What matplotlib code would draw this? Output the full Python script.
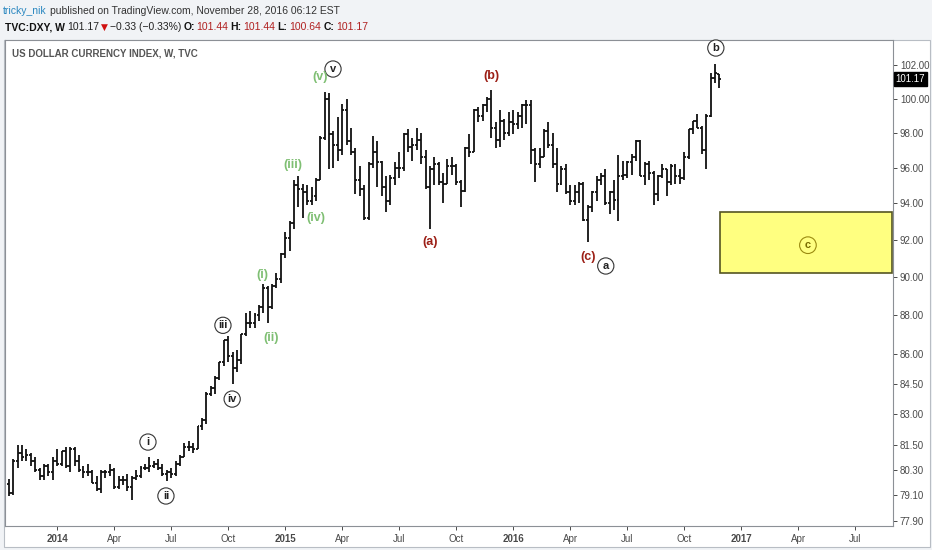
import numpy as np
import matplotlib.pyplot as plt
import matplotlib.transforms as mtransforms
from matplotlib.patches import Rectangle
from matplotlib.ticker import NullLocator

plt.rcParams['font.family'] = ['Liberation Sans', 'DejaVu Sans']

# weekly DXY bars, Oct 21 2013 .. Nov 28 2016
opens = [79.65, 79.2, 80.7, 81.1, 80.9, 81.0, 80.7, 80.3, 80.0, 80.5,
         80.2, 80.7, 80.6, 81.2, 80.5, 81.3, 80.7, 80.3, 80.2, 80.2,
         79.7, 79.4, 80.2, 80.2, 80.3, 79.5, 79.8, 79.8, 79.5, 79.9,
         80.0, 80.4, 80.4, 80.5, 80.6, 80.4, 80.1, 80.2, 80.1, 80.6,
         80.9, 81.4, 81.4, 81.3, 82.4, 82.7, 84.0, 84.3, 84.8, 85.6,
         86.7, 85.9, 85.3, 85.7, 87.0, 87.6, 87.6, 88.0, 88.4, 89.4,
         88.4, 89.5, 89.9, 91.2, 92.1, 92.9, 95.0, 94.8, 94.6, 94.1,
         94.4, 95.3, 97.7, 100.0, 97.9, 97.3, 97.0, 99.3, 97.5, 96.9,
         95.3, 94.8, 93.2, 96.2, 96.9, 96.3, 94.9, 94.1, 95.4, 96.0,
         96.0, 97.9, 97.2, 97.3, 97.6, 96.6, 94.9, 95.9, 96.2, 95.2,
         95.1, 96.1, 96.1, 95.2, 94.7, 97.1, 96.9, 99.3, 99.0, 99.6,
         100.0, 98.3, 97.6, 98.7, 98.0, 98.6, 98.5, 99.0, 99.6, 99.6,
         97.0, 96.2, 96.6, 98.1, 97.3, 96.2, 95.1, 95.9, 94.6, 94.1,
         94.6, 95.1, 93.1, 93.8, 94.6, 95.3, 95.5, 94.0, 94.6, 94.2,
         95.5, 95.6, 96.3, 96.6, 97.5, 95.5, 96.2, 95.7, 94.5, 95.5,
         95.9, 95.2, 96.1, 95.5, 95.4, 96.6, 98.2, 98.7, 98.3, 97.0,
         99.0, 101.2, 101.44]
highs = [79.85, 80.8, 81.5, 81.5, 81.3, 81.1, 80.9, 80.4, 80.6, 80.6,
         80.9, 81.3, 81.2, 81.4, 81.4, 81.4, 81.0, 80.5, 80.6, 80.3,
         80.0, 80.3, 80.3, 80.6, 80.4, 80.0, 80.0, 80.1, 80.0, 80.3,
         80.5, 80.6, 80.9, 80.7, 80.8, 80.6, 80.3, 80.4, 80.7, 81.0,
         81.6, 81.7, 81.6, 82.4, 82.8, 84.1, 84.4, 84.9, 85.6, 86.7,
         86.9, 86.1, 86.2, 87.0, 88.1, 88.2, 88.1, 88.5, 89.6, 89.5,
         89.6, 90.2, 91.3, 92.4, 93.0, 95.3, 95.5, 95.1, 95.0, 94.9,
         95.4, 97.8, 100.4, 100.3, 98.1, 98.9, 99.7, 100.0, 98.3, 97.1,
         96.1, 95.0, 96.3, 97.8, 97.5, 96.4, 95.5, 95.6, 96.3, 96.9,
         98.0, 98.2, 97.7, 98.3, 98.0, 97.0, 96.1, 96.6, 96.3, 95.7,
         96.5, 96.6, 96.2, 95.3, 97.2, 97.9, 99.4, 99.5, 99.7, 100.1,
         100.5, 98.6, 99.3, 98.8, 99.2, 99.3, 99.2, 99.7, 99.9, 99.9,
         97.1, 97.1, 98.2, 98.6, 98.0, 97.1, 96.1, 96.2, 95.0, 95.0,
         95.2, 95.2, 93.9, 94.7, 95.5, 95.7, 95.9, 94.7, 95.3, 96.7,
         96.4, 96.4, 96.8, 97.6, 97.6, 96.3, 96.4, 95.8, 95.6, 96.2,
         95.9, 96.2, 96.2, 95.9, 96.9, 98.2, 98.7, 99.1, 98.4, 99.1,
         101.5, 102.05, 101.44]
lows = [79.05, 79.1, 80.4, 80.7, 80.7, 80.5, 80.2, 79.8, 79.8, 80.0,
        79.8, 80.5, 80.5, 80.4, 80.2, 80.5, 80.2, 79.9, 80.0, 79.7,
        79.3, 79.2, 79.9, 80.0, 79.4, 79.4, 79.6, 79.3, 78.9, 79.8,
        79.9, 80.3, 80.2, 80.4, 80.3, 80.0, 79.75, 79.9, 80.0, 80.5,
        80.9, 81.2, 81.1, 81.3, 82.2, 82.5, 83.9, 84.0, 84.7, 85.4,
        85.6, 84.5, 85.1, 85.5, 86.9, 87.3, 87.3, 87.7, 88.1, 87.6,
        88.3, 89.4, 89.7, 91.0, 91.4, 92.6, 93.8, 93.2, 93.9, 93.9,
        94.1, 95.3, 97.6, 95.9, 96.0, 96.4, 96.7, 97.3, 96.7, 94.5,
        94.4, 93.1, 93.1, 96.0, 94.9, 94.4, 93.5, 93.9, 95.0, 95.4,
        95.8, 96.9, 96.4, 97.0, 96.2, 94.8, 92.6, 95.0, 95.0, 94.0,
        95.1, 95.6, 95.0, 93.8, 94.6, 96.6, 96.9, 98.6, 98.7, 99.2,
        97.7, 97.1, 97.2, 97.6, 97.8, 97.9, 98.2, 98.3, 98.5, 96.2,
        95.2, 96.0, 96.6, 97.1, 96.0, 94.6, 95.0, 94.5, 93.9, 93.9,
        94.0, 93.0, 91.9, 93.5, 94.1, 95.0, 93.9, 93.4, 93.6, 93.0,
        95.3, 95.4, 95.6, 96.4, 95.5, 95.0, 95.3, 93.9, 94.1, 95.4,
        94.4, 95.0, 95.1, 95.1, 95.3, 96.5, 97.9, 98.3, 96.8, 95.9,
        98.9, 100.9, 100.64]
closes = [79.2, 80.7, 81.1, 80.9, 81.0, 80.7, 80.3, 80.0, 80.5, 80.2,
          80.7, 80.6, 81.2, 80.5, 81.3, 80.7, 80.3, 80.2, 80.2, 79.7,
          79.4, 80.2, 80.2, 80.3, 79.5, 79.8, 79.8, 79.5, 79.9, 80.0,
          80.4, 80.4, 80.5, 80.6, 80.4, 80.1, 80.2, 80.1, 80.6, 80.9,
          81.4, 81.4, 81.3, 82.4, 82.7, 84.0, 84.3, 84.8, 85.6, 86.7,
          85.9, 85.3, 85.7, 87.0, 87.6, 87.6, 88.0, 88.4, 89.4, 88.4,
          89.5, 89.9, 91.2, 92.1, 92.9, 95.0, 94.8, 94.6, 94.1, 94.4,
          95.3, 97.7, 100.0, 97.9, 97.3, 97.0, 99.3, 97.5, 96.9, 95.3,
          94.8, 93.2, 96.2, 96.9, 96.3, 94.9, 94.1, 95.4, 96.0, 96.0,
          97.9, 97.2, 97.3, 97.6, 96.6, 94.9, 95.9, 96.2, 95.2, 95.1,
          96.1, 96.1, 95.2, 94.7, 97.1, 96.9, 99.3, 99.0, 99.6, 100.0,
          98.3, 97.6, 98.7, 98.0, 98.6, 98.5, 99.0, 99.6, 99.6, 97.0,
          96.2, 96.6, 98.1, 97.3, 96.2, 95.1, 95.9, 94.6, 94.1, 94.6,
          95.1, 93.1, 93.8, 94.6, 95.3, 95.5, 94.0, 94.6, 94.2, 95.5,
          95.6, 96.3, 96.6, 97.5, 95.5, 96.2, 95.7, 94.5, 95.5, 95.9,
          95.2, 96.1, 95.5, 95.4, 96.6, 98.2, 98.7, 98.3, 97.0, 99.0,
          101.2, 101.5, 101.17]

price_ticks = [77.90, 79.10, 80.30, 81.50, 83.00, 84.50, 86.00, 88.00,
               90.00, 92.00, 94.00, 96.00, 98.00, 100.00, 102.00]
time_tick_pos = [11, 24, 37, 50, 63, 76, 89, 102, 115, 128, 141, 154, 167, 180, 193]
time_tick_labels = ['2014', 'Apr', 'Jul', 'Oct', '2015', 'Apr', 'Jul', 'Oct',
                    '2016', 'Apr', 'Jul', 'Oct', '2017', 'Apr', 'Jul']

# wave labels: (text, bar position, price)
circled_labels = [('i', 31.7, 81.63), ('ii', 35.8, 79.07), ('iii', 48.8, 87.46),
                  ('iv', 50.9, 83.73), ('v', 73.9, 101.76),
                  ('a', 136.1, 90.58), ('b', 161.2, 103.03)]
green_labels = [('(i)', 57.9, 90.1), ('(ii)', 59.9, 86.8), ('(iii)', 64.8, 96.15),
                ('(iv)', 70.0, 93.2), ('(v)', 70.9, 101.3)]
red_labels = [('(a)', 96.0, 91.87), ('(b)', 110.1, 101.34), ('(c)', 132.0, 91.06)]
target_box = (162.1, 201.4, 90.2, 93.5)

W, H = 932, 550
fig = plt.figure(figsize=(W / 100, H / 100), dpi=100, facecolor='#f1f3f6')
fig.patches.append(Rectangle((4 / W, 3 / H), 926 / W, 507 / H, transform=fig.transFigure,
                             fc='white', ec='#b8bdc4', lw=0.8, zorder=-5))

ax = fig.add_axes([5 / W, 24 / H, 888 / W, 486 / H])
ax.set_facecolor('white')

x = np.arange(len(closes))
ax.vlines(x, lows, highs, color='#111111', lw=1.3)
ax.hlines(opens, x - 0.45, x, color='#111111', lw=1.3)
ax.hlines(closes, x, x + 0.45, color='#111111', lw=1.3)

ax.set_yscale('log')
ax.set_ylim(77.68, 103.52)
ax.set_xlim(-0.9, 201.6)
ax.yaxis.set_minor_locator(NullLocator())
ax.set_yticks(price_ticks)
ax.set_yticklabels(['%.2f' % p for p in price_ticks])
ax.yaxis.tick_right()
ax.set_xticks(time_tick_pos)
ax.set_xticklabels(time_tick_labels)
ax.tick_params(axis='both', labelsize=7, colors='#4a4a4a', length=3, width=0.7, pad=2)
ax.tick_params(axis='x', pad=3)
for lab in ax.get_xticklabels():
    if lab.get_text().isdigit():
        lab.set_fontweight('bold')
for sp in ax.spines.values():
    sp.set_color('#8c9096')
    sp.set_linewidth(0.8)

# target zone
bx0, bx1, by0, by1 = target_box
ax.add_patch(Rectangle((bx0, by0), bx1 - bx0, by1 - by0, fc='#ffff80', ec='#555522', lw=1.2, zorder=1))
ax.text(182.2, 91.7, 'c', ha='center', va='center', fontsize=8, color='#7a6c00', fontweight='bold',
        bbox=dict(boxstyle='circle,pad=0.3', fc='none', ec='#9a8a10', lw=0.8))

for t, xi, yi in circled_labels:
    ax.text(xi, yi, t, ha='center', va='center', fontsize=8, color='#222222', fontweight='bold',
            bbox=dict(boxstyle='circle,pad=0.28', fc='white', ec='#333333', lw=0.8), zorder=5)
for t, xi, yi in green_labels:
    ax.text(xi, yi, t, ha='center', va='center', fontsize=9, color='#7fbf73', fontweight='bold', zorder=5)
for t, xi, yi in red_labels:
    ax.text(xi, yi, t, ha='center', va='center', fontsize=9, color='#9c1f16', fontweight='bold', zorder=5)

# last price marker on the price scale
trans = mtransforms.blended_transform_factory(ax.transAxes, ax.transData)
ax.text(1.003, closes[-1], '%.2f' % closes[-1], transform=trans, ha='left', va='center',
        fontsize=7, color='white', bbox=dict(boxstyle='square,pad=0.2', fc='black', ec='black'))

# header, pieces laid out one after another
renderer = fig.canvas.get_renderer()

def text_row(px, py, pieces, gap=3):
    for s, kw in pieces:
        t = fig.text(px / W, 1 - py / H, s, va='center', ha='left', **kw)
        bb = t.get_window_extent(renderer)
        px += bb.width + gap

red = '#b02020'
text_row(3, 11, [('tricky_nik', dict(fontsize=7.5, color='#2a87c0')),
                 ('published on TradingView.com, November 28, 2016 06:12 EST',
                  dict(fontsize=7.5, color='#333333'))])
text_row(5, 27, [('TVC:DXY, W', dict(fontsize=7.5, color='#111111', fontweight='bold')),
                 ('101.17', dict(fontsize=7.5, color='#222222')),
                 ('\u25bc', dict(fontsize=6.5, color='#d01010', family='DejaVu Sans')),
                 ('\u22120.33 (\u22120.33%)', dict(fontsize=7.5, color='#222222')),
                 ('O:', dict(fontsize=7.5, color='#111111', fontweight='bold')),
                 ('101.44', dict(fontsize=7.5, color=red)),
                 ('H:', dict(fontsize=7.5, color='#111111', fontweight='bold')),
                 ('101.44', dict(fontsize=7.5, color=red)),
                 ('L:', dict(fontsize=7.5, color='#111111', fontweight='bold')),
                 ('100.64', dict(fontsize=7.5, color=red)),
                 ('C:', dict(fontsize=7.5, color='#111111', fontweight='bold')),
                 ('101.17', dict(fontsize=7.5, color=red))], gap=2)
fig.text(12 / W, 1 - 54 / H, 'US DOLLAR CURRENCY INDEX, W, TVC', va='center', ha='left',
         fontsize=7, color='#555555', fontweight='bold')

fig.savefig('out.png', dpi=100, facecolor=fig.get_facecolor())
